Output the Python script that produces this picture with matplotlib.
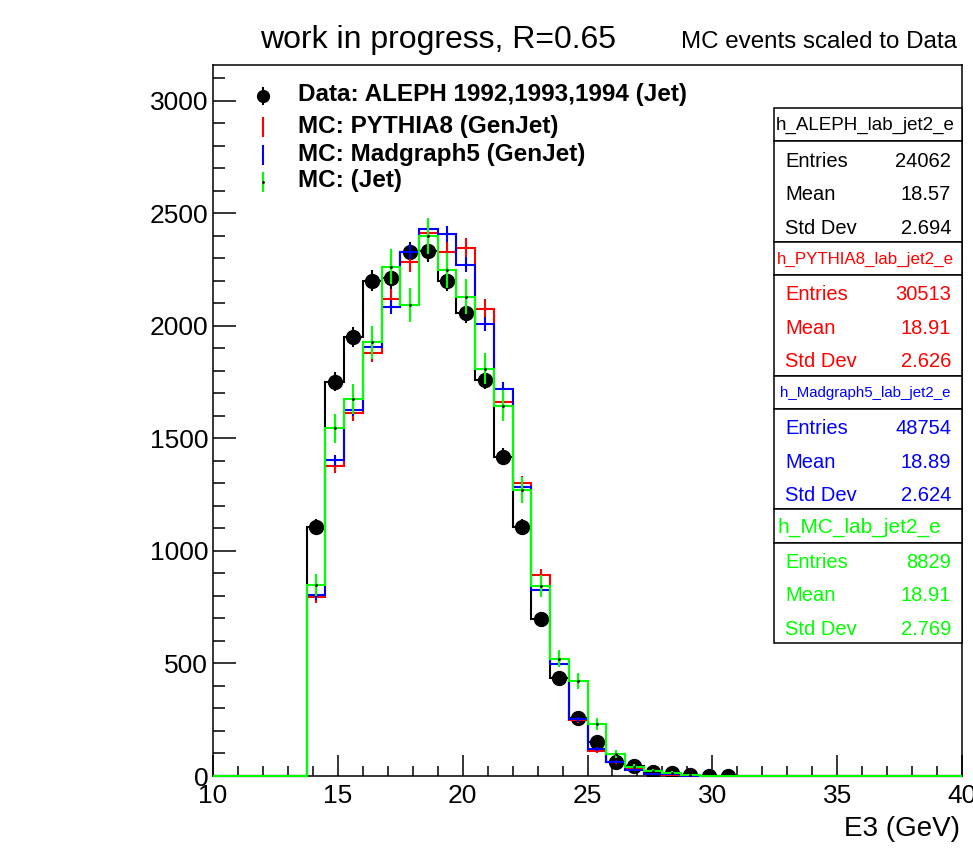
import numpy as np
import matplotlib
matplotlib.use("Agg")
import matplotlib.pyplot as plt
from matplotlib.lines import Line2D
from matplotlib.patches import Rectangle
from matplotlib.ticker import MultipleLocator

plt.rcParams['font.family'] = ['Liberation Sans', 'DejaVu Sans']

# ---------------- data ----------------
bin_edges = np.linspace(10.0, 40.0, 41)      # 40 bins of 0.75 GeV

data_counts = [0, 0, 0, 0, 0,
               1108, 1752, 1952, 2200, 2212, 2326, 2333, 2200, 2056, 1760,
               1419, 1108, 698, 434, 256, 152, 64, 45, 17, 13, 3, 1, 1,
               0, 0, 0, 0, 0, 0, 0, 0, 0, 0, 0, 0]
pythia_counts = [0, 0, 0, 0, 0,
                 794, 1379, 1612, 1878, 2121, 2283, 2412, 2330, 2348, 2077,
                 1660, 1300, 893, 518, 250, 111, 61, 34, 9, 4,
                 0, 0, 0, 0, 0, 0, 0, 0, 0, 0, 0, 0, 0, 0, 0]
madgraph_counts = [0, 0, 0, 0, 0,
                   804, 1402, 1627, 1908, 2083, 2330, 2430, 2407, 2271, 2007,
                   1720, 1286, 827, 499, 253, 120, 64, 27, 9, 8,
                   0, 0, 0, 0, 0, 0, 0, 0, 0, 0, 0, 0, 0, 0, 0]
mcjet_counts = [0, 0, 0, 0, 0,
                849, 1544, 1676, 1927, 2263, 2094, 2400, 2246, 2130, 1810,
                1646, 1271, 844, 522, 422, 231, 98, 42, 24, 15, 3,
                0, 0, 0, 0, 0, 0, 0, 0, 0, 0, 0, 0, 0, 0]

legend_labels = ["Data: ALEPH 1992,1993,1994 (Jet)", "MC: PYTHIA8 (GenJet)",
                 "MC: Madgraph5 (GenJet)", "MC: (Jet)"]
stat_names = ["h_ALEPH_lab_jet2_e", "h_PYTHIA8_lab_jet2_e",
              "h_Madgraph5_lab_jet2_e", "h_MC_lab_jet2_e"]
stat_entries = [24062, 30513, 48754, 8829]
stat_means = ["18.57", "18.91", "18.89", "18.91"]
stat_stds = ["2.694", "2.626", "2.624", "2.769"]

colors = ["black", "#ff0000", "#0000ff", "#00ff00"]

# ---------------- figure ----------------
W, H = 973, 850
fig = plt.figure(figsize=(W / 100, H / 100), dpi=100)

def fx(x):
    return x / W

def fy(y):
    return 1 - y / H

ax_l, ax_r, ax_t, ax_b = 213, 962, 65, 776
ax = fig.add_axes([fx(ax_l), fy(ax_b), (ax_r - ax_l) / W, (ax_b - ax_t) / H])

centers = 0.5 * (bin_edges[:-1] + bin_edges[1:])
data_arr = np.array(data_counts, float)

# data histogram outline + markers
ax.stairs(data_arr, bin_edges, color="black", linewidth=1.5, zorder=2,
          clip_on=False)
mask = data_arr > 0
ax.errorbar(centers[mask], data_arr[mask], yerr=np.sqrt(data_arr[mask]),
            fmt="o", color="black", markersize=10, elinewidth=1.5,
            capsize=0, zorder=3)

# MC histograms, scaled to data
mc_series = [pythia_counts, madgraph_counts, mcjet_counts]
for i, vals in enumerate(mc_series):
    v = np.array(vals, float)
    scale = stat_entries[0] / stat_entries[i + 1]
    col = colors[i + 1]
    z = 4 + i
    ax.stairs(v, bin_edges, color=col, linewidth=1.5, zorder=z, clip_on=False)
    m = v > 0
    ax.errorbar(centers[m], v[m], yerr=np.sqrt(v[m] * scale), fmt="none",
                ecolor=col, elinewidth=1.5, capsize=0, zorder=z)
    if i == 2:
        ax.plot(centers[m], v[m], ls="none", marker=".", color="black",
                markersize=2, zorder=z + 0.1)

ax.set_xlim(10, 40)
ax.set_ylim(0, 3159)
ax.xaxis.set_major_locator(MultipleLocator(5))
ax.xaxis.set_minor_locator(MultipleLocator(1))
ax.yaxis.set_major_locator(MultipleLocator(500))
ax.yaxis.set_minor_locator(MultipleLocator(100))
ax.tick_params(axis="both", which="both", direction="in", top=False, right=False,
               width=1.1, labelsize=19)
ax.tick_params(axis="x", which="major", length=15, pad=5.5)
ax.tick_params(axis="x", which="minor", length=7)
ax.tick_params(axis="y", which="major", length=16.5, pad=3.5)
ax.tick_params(axis="y", which="minor", length=8.5)
for s in ax.spines.values():
    s.set_linewidth(1.1)

# titles and axis label
fig.text(fx(260), fy(48), "work in progress, R=0.65", fontsize=23,
         ha="left", va="baseline")
fig.text(fx(681), fy(48), "MC events scaled to Data", fontsize=17.4,
         ha="left", va="baseline")
fig.text(fx(960), fy(836), "E3 (GeV)", fontsize=20, ha="right", va="baseline")

# legend (manual, ROOT-style)
leg_y = [96, 127, 155, 182]
mk_x = 263
fig.add_artist(Line2D([fx(mk_x)] * 2, [fy(leg_y[0] - 8), fy(leg_y[0] + 8)],
                      transform=fig.transFigure, color="black", lw=1.5))
fig.add_artist(Line2D([fx(mk_x)], [fy(leg_y[0])], transform=fig.transFigure,
                      marker="o", markersize=8.5, color="black", ls="none"))
for i in range(1, 4):
    fig.add_artist(Line2D([fx(mk_x)] * 2, [fy(leg_y[i] - 9), fy(leg_y[i] + 9)],
                          transform=fig.transFigure, color=colors[i], lw=1.5))
fig.add_artist(Line2D([fx(mk_x)], [fy(leg_y[3])], transform=fig.transFigure,
                      marker=".", markersize=2, color="black", ls="none"))
for i, lab in enumerate(legend_labels):
    fig.text(fx(298), fy(leg_y[i] - 1), lab, fontsize=17.5, fontweight="bold",
             ha="left", va="center")

# stats boxes
sx0, sx1 = 774, 962
sy0, sy1 = 108, 643
row_h = (sy1 - sy0) / 16.0
title_sizes = [13.5, 12.2, 10.8, 15.0]
title_shift = [-3, -3, -3, -9]
for b in range(4):
    top = sy0 + b * 4 * row_h
    col = colors[b]
    # title box
    fig.add_artist(Rectangle((fx(sx0), fy(top + row_h)), (sx1 - sx0) / W, row_h / H,
                             transform=fig.transFigure, facecolor="white",
                             edgecolor="black", lw=1.1))
    # entries box
    fig.add_artist(Rectangle((fx(sx0), fy(top + 4 * row_h)), (sx1 - sx0) / W,
                             3 * row_h / H, transform=fig.transFigure,
                             facecolor="white", edgecolor="black", lw=1.1))
    fig.text(fx((sx0 + sx1) / 2 + title_shift[b]), fy(top + 0.5 * row_h + 1),
             stat_names[b], fontsize=title_sizes[b], color=col, ha="center",
             va="center")
    rows = [("Entries", str(stat_entries[b])), ("Mean", stat_means[b]),
            ("Std Dev", stat_stds[b])]
    for r, (k, v) in enumerate(rows):
        yc = top + (r + 1.5) * row_h + 3
        fig.text(fx(785), fy(yc), k, fontsize=14.5, color=col, ha="left",
                 va="center")
        fig.text(fx(951), fy(yc), v, fontsize=14.5, color=col, ha="right",
                 va="center")

fig.savefig("out.png", dpi=100)
